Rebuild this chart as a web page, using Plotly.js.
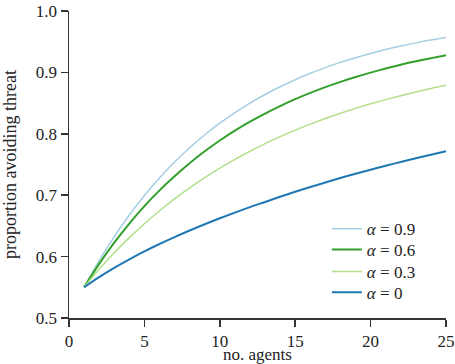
<!DOCTYPE html>
<html>
<head>
<meta charset="utf-8">
<script src="https://cdn.plot.ly/plotly-3.0.1.min.js"></script>
<style>
  html, body { margin: 0; padding: 0; background: #fff; }
  #chart { width: 455px; height: 364px; }
</style>
</head>
<body>
<div id="chart"></div>
<script>
// Number of agents in the group
const agents = [1,2,3,4,5,6,7,8,9,10,11,12,13,14,15,16,17,18,19,20,21,22,23,24,25];

// Proportion of agents avoiding the threat, one series per alpha
const alpha09 = [0.5500,0.5936,0.6326,0.6678,0.6996,0.7282,0.7540,0.7773,0.7984,0.8173,0.8345,0.8500,0.8640,0.8766,0.8881,0.8985,0.9078,0.9163,0.9240,0.9309,0.9372,0.9429,0.9481,0.9528,0.9570];
const alpha06 = [0.5500,0.5882,0.6226,0.6538,0.6821,0.7078,0.7310,0.7522,0.7715,0.7891,0.8051,0.8197,0.8330,0.8452,0.8564,0.8666,0.8760,0.8845,0.8924,0.8996,0.9063,0.9124,0.9180,0.9232,0.9280];
const alpha03 = [0.5500,0.5793,0.6062,0.6309,0.6536,0.6747,0.6941,0.7121,0.7287,0.7441,0.7584,0.7716,0.7839,0.7953,0.8059,0.8157,0.8249,0.8334,0.8414,0.8488,0.8557,0.8621,0.8681,0.8738,0.8790];
const alpha00 = [0.5500,0.5665,0.5815,0.5955,0.6085,0.6205,0.6318,0.6425,0.6527,0.6624,0.6717,0.6806,0.6890,0.6974,0.7055,0.7133,0.7208,0.7280,0.7349,0.7415,0.7479,0.7541,0.7601,0.7659,0.7715];

const seriesNames = ['<i>α</i> = 0.9', '<i>α</i> = 0.6', '<i>α</i> = 0.3', '<i>α</i> = 0'];
const seriesValues = [alpha09, alpha06, alpha03, alpha00];
const seriesColors = ['#a6cee3', '#33a02c', '#b2df8a', '#1f78b4'];
const seriesWidths = [1.5, 2, 1.5, 2];

const xTicks = [0, 5, 10, 15, 20, 25];
const yTicks = [0.5, 0.6, 0.7, 0.8, 0.9, 1.0];
const yTickText = ['0.5', '0.6', '0.7', '0.8', '0.9', '1.0'];
const xTitle = 'no. agents';
const yTitle = 'proportion avoiding threat';

const serif = 'Liberation Serif, Times New Roman, Times, serif';
const ink = '#222';

// one legend per series so the rows can sit close together
const legendIds = ['legend', 'legend2', 'legend3', 'legend4'];
const legendRowY = [0.289, 0.2215, 0.1498, 0.0827];

const traces = seriesValues.map((vals, i) => ({
  x: agents,
  y: vals,
  type: 'scatter',
  mode: 'lines',
  name: seriesNames[i],
  legend: legendIds[i],
  line: { color: seriesColors[i], width: seriesWidths[i], shape: 'spline', smoothing: 1 }
}));

const axisCommon = {
  showgrid: false,
  zeroline: false,
  showline: true,
  linecolor: '#333',
  linewidth: 1.5,
  ticks: 'outside',
  ticklen: 7,
  tickwidth: 1.5,
  tickcolor: '#333',
  tickfont: { family: serif, size: 17, color: ink }
};

const layout = {
  width: 455,
  height: 364,
  margin: { l: 69, r: 9, t: 11, b: 46 },
  paper_bgcolor: '#fff',
  plot_bgcolor: '#fff',
  font: { family: serif, size: 17, color: ink },
  showlegend: true,
  xaxis: Object.assign({}, axisCommon, {
    range: [0, 25],
    tickvals: xTicks,
    ticktext: xTicks.map(String),
    title: { text: xTitle, font: { family: serif, size: 17, color: ink }, standoff: 13 }
  }),
  yaxis: Object.assign({}, axisCommon, {
    range: [0.5, 1.0],
    tickvals: yTicks,
    ticktext: yTickText,
    title: { text: yTitle, font: { family: serif, size: 18, color: ink }, standoff: 14 }
  })
};

legendIds.forEach((id, i) => {
  layout[id] = {
    x: 0.684,
    y: legendRowY[i],
    xanchor: 'left',
    yanchor: 'middle',
    bgcolor: 'rgba(0,0,0,0)',
    borderwidth: 0,
    font: { family: serif, size: 17, color: ink }
  };
});

Plotly.newPlot('chart', traces, layout, { displayModeBar: false, staticPlot: true });
</script>
</body>
</html>
